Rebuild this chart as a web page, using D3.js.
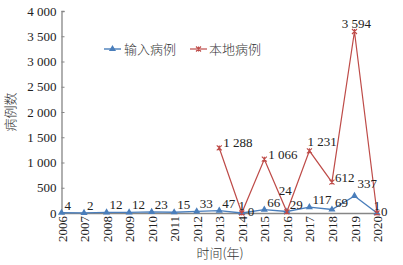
<!DOCTYPE html>
<html><head><meta charset="utf-8">
<script src="https://cdn.jsdelivr.net/npm/d3@7"></script>
<style>
html,body{margin:0;padding:0;background:#fff;}
svg{display:block;}
text{font-family:"Liberation Serif","Noto Sans CJK SC",serif;fill:#222;}
.cjk{font-family:"Noto Sans CJK SC","Liberation Serif",sans-serif;font-weight:300;fill:#333;}
</style></head>
<body>
<script>
const years = [2006,2007,2008,2009,2010,2011,2012,2013,2014,2015,2016,2017,2018,2019,2020];
const importedCases = [4,2,12,12,23,15,33,47,1,66,29,117,69,337,1];
const localYears = [2013,2014,2015,2016,2017,2018,2019,2020];
const localCases = [1288,0,1066,24,1231,612,3594,0];
const yTicks = [0,500,1000,1500,2000,2500,3000,3500,4000];
const seriesNames = ["输入病例","本地病例"];
const axisTitles = {x:"时间(年)", y:"病例数"};

const W=403,H=265;
const blue="#4A7EBB", red="#BE4B48", axisColor="#868686";
const svg=d3.select("body").append("svg").attr("width",W).attr("height",H);

const x=d3.scaleLinear().domain([2006,2020]).range([61.5,377]);
const y=d3.scaleLinear().domain([0,4000]).range([213,11]);
const fmt=v=>d3.format(",")(v).replace(/,/g," ");

// y axis
const yAxis=d3.axisLeft(y).tickValues(yTicks).tickSize(-3).tickPadding(6).tickFormat(fmt);
const gy=svg.append("g").attr("transform","translate(61.5,0)").call(yAxis);
gy.select(".domain").attr("stroke",axisColor).attr("stroke-width",1.3);
gy.selectAll(".tick line").attr("stroke",axisColor);
gy.selectAll(".tick text").attr("font-size",13).attr("fill","#222")
  .attr("font-family","Liberation Serif").attr("dx",1);

// x axis
const xAxis=d3.axisBottom(x).tickValues(years).tickSize(0).tickFormat(d3.format("d"));
const gx=svg.append("g").attr("transform","translate(0,213)").call(xAxis);
gx.select(".domain").attr("stroke",axisColor).attr("stroke-width",1.3);
gx.selectAll(".tick text").attr("font-size",13).attr("fill","#222")
  .attr("font-family","Liberation Serif")
  .attr("text-anchor","end").attr("transform","rotate(-90)")
  .attr("x",-3).attr("y",0).attr("dy","0.35em");

// titles
svg.append("text").attr("class","cjk").attr("font-size",13)
  .attr("text-anchor","middle").attr("transform","translate(15,112) rotate(-90)")
  .text(axisTitles.y);
svg.append("text").attr("class","cjk").attr("font-size",13)
  .attr("text-anchor","middle").attr("x",220).attr("y",258)
  .text(axisTitles.x);

const imp=years.map((yr,i)=>({yr,v:importedCases[i]}));
const loc=localYears.map((yr,i)=>({yr,v:localCases[i]}));
const line=d3.line().x(d=>x(d.yr)).y(d=>y(d.v));

const tri=d3.symbol().type(d3.symbolTriangle).size(22);
function drawCross(g,cx,cy,s){
  g.append("path").attr("d",`M${cx-s},${cy-s}L${cx+s},${cy+s}M${cx-s},${cy+s}L${cx+s},${cy-s}M${cx},${cy-s}L${cx},${cy+s}`)
   .attr("stroke",red).attr("stroke-width",1.1).attr("fill","none");
}

// imported
svg.append("path").datum(imp).attr("d",line).attr("fill","none").attr("stroke",blue).attr("stroke-width",1.4);
svg.append("g").selectAll("path").data(imp).join("path")
  .attr("d",tri).attr("fill",blue)
  .attr("transform",d=>`translate(${x(d.yr)},${y(d.v)})`);

// local
svg.append("path").datum(loc).attr("d",line).attr("fill","none").attr("stroke",red).attr("stroke-width",1.2);
const gm=svg.append("g");
loc.forEach(d=>drawCross(gm,x(d.yr),y(d.v),2.5));

// labels
const impOff={2014:[0,-3,"middle"],2019:[3,-8,"start"],2020:[0,-3,"middle"]};
svg.append("g").selectAll("text").data(imp).join("text")
  .attr("font-size",13)
  .attr("x",d=>x(d.yr)+(impOff[d.yr]?impOff[d.yr][0]:3))
  .attr("y",d=>y(d.v)+(impOff[d.yr]?impOff[d.yr][1]:-3))
  .attr("text-anchor",d=>impOff[d.yr]?impOff[d.yr][2]:"start")
  .text(d=>fmt(d.v));
const locOff={2013:[4,-1,"start"],2015:[4,0,"start"],2016:[-8,-17,"start"],2017:[-2,-5,"start"],2018:[3,0,"start"],2019:[2,-4,"middle"],2014:[6,3,"start"],2020:[4,3,"start"]};
svg.append("g").selectAll("text").data(loc).join("text")
  .attr("font-size",13)
  .attr("x",d=>x(d.yr)+locOff[d.yr][0])
  .attr("y",d=>y(d.v)+locOff[d.yr][1])
  .attr("text-anchor",d=>locOff[d.yr][2])
  .text(d=>fmt(d.v));

// legend
const lg=svg.append("g");
lg.append("line").attr("x1",104).attr("x2",121).attr("y1",49).attr("y2",49).attr("stroke",blue).attr("stroke-width",1.4);
lg.append("path").attr("d",tri).attr("fill",blue).attr("transform","translate(112.5,49)");
lg.append("text").attr("class","cjk").attr("font-size",13).attr("x",124).attr("y",54).text(seriesNames[0]);
lg.append("line").attr("x1",190).attr("x2",207).attr("y1",49).attr("y2",49).attr("stroke",red).attr("stroke-width",1.2);
drawCross(lg,198.5,49,2.5);
lg.append("text").attr("class","cjk").attr("font-size",13).attr("x",209).attr("y",54).text(seriesNames[1]);
</script>
</body></html>
